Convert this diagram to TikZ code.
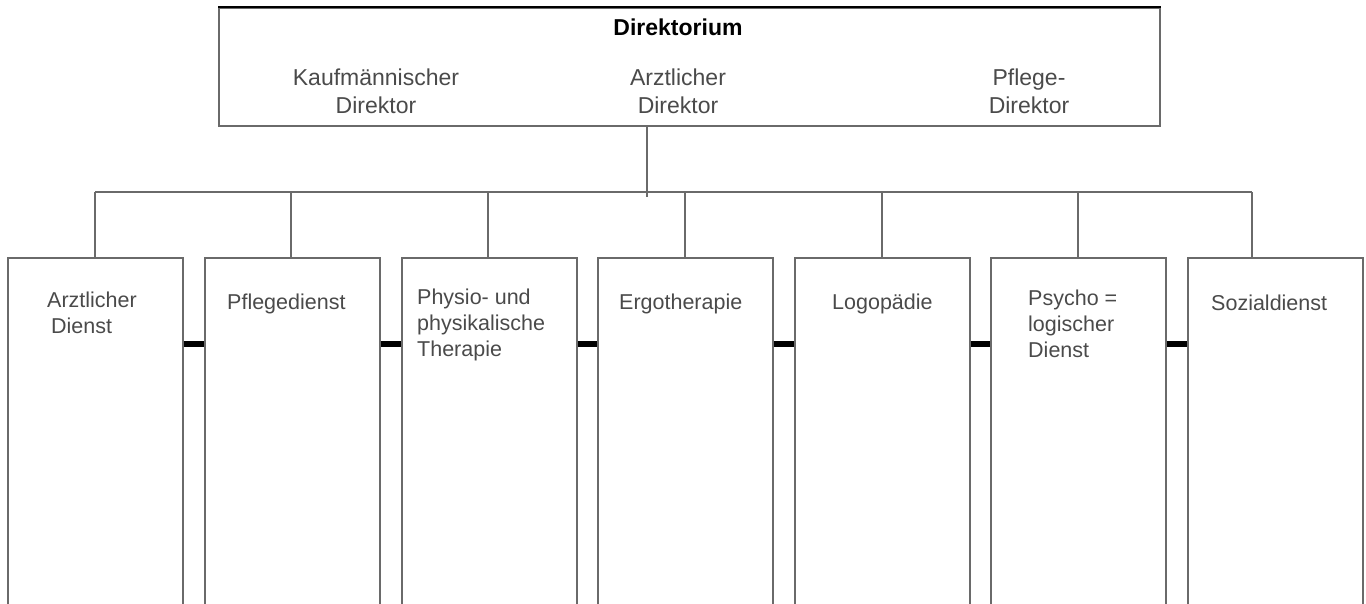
\documentclass[tikz,border=0pt]{standalone}
\usepackage{fontspec}
\setmainfont{Liberation Sans}
\definecolor{linegray}{HTML}{6A6A6A}
\definecolor{textgray}{HTML}{4A4A4A}
\tikzset{
  conn/.style={draw=linegray, line width=1.6pt},
  unitbox/.style={draw=linegray, line width=1.6pt, rectangle, minimum width=175pt, minimum height=380pt, anchor=north west, inner sep=0pt},
  topbox/.style={draw=linegray, line width=1.6pt, rectangle, minimum width=941pt, minimum height=118pt, anchor=north west, inner sep=0pt},
  link/.style={draw=black, line width=6pt},
  lowtxt/.style={anchor=base west, inner sep=0pt, align=left, text=textgray, font={\fontsize{21.5}{26}\selectfont}},
  toptxt/.style={anchor=base, inner sep=0pt, align=center, text=textgray, font={\fontsize{23}{28}\selectfont}},
}
\begin{document}
\begin{tikzpicture}[x=1pt,y=-1pt]
\useasboundingbox (0,0) rectangle (1366,603);
\clip (0,0) rectangle (1366,603);
% top box
\node[topbox] (top) at (218,7) {};
\draw[black, line width=1.6pt] (top.north west) -- (top.north east);
\node[anchor=base, inner sep=0pt, font={\fontsize{23}{28}\selectfont\bfseries}] (dir) at (678,35) {Direktorium};
\node[toptxt] (kd) at (376,113) {Kaufmännischer\\Direktor};
\node[toptxt] (ad) at (678,113) {Arztlicher\\Direktor};
\node[toptxt] (pd) at (1029,113) {Pflege-\\Direktor};
% lower boxes
\node[unitbox] (b1) at (7,257) {};
\node[unitbox] (b2) at (204,257) {};
\node[unitbox] (b3) at (401,257) {};
\node[unitbox] (b4) at (597,257) {};
\node[unitbox] (b5) at (794,257) {};
\node[unitbox] (b6) at (990,257) {};
\node[unitbox] (b7) at (1187,257) {};
% labels
\node[lowtxt] (t1) at (47,333) {Arztlicher\\\hspace{4pt}Dienst};
\node[lowtxt] (t2) at (227,309) {Pflegedienst};
\node[lowtxt] (t3) at (417,356) {Physio- und\\physikalische\\Therapie};
\node[lowtxt] (t4) at (619,309) {Ergotherapie};
\node[lowtxt] (t5) at (832,309) {Logopädie};
\node[lowtxt] (t6) at (1028,357) {Psycho =\\logischer\\Dienst};
\node[lowtxt] (t7) at (1211,310) {Sozialdienst};
% tree connectors
\coordinate (v) at (647,197);
\draw[conn] (v |- top.south) -- (v);
\coordinate (d1) at (95,192);
\coordinate (d2) at (291,192);
\coordinate (d3) at (488,192);
\coordinate (d4) at (685,192);
\coordinate (d5) at (882,192);
\coordinate (d6) at (1078,192);
\coordinate (d7) at (1252,192);
\draw[conn] (d1) -- (d7);
\foreach \i in {1,...,7} {
  \draw[conn] (d\i) -- (d\i |- b\i.north);
}
% thick links between boxes
\coordinate (h) at (0,344);
\draw[link] (b1.east |- h) -- (b2.west |- h);
\draw[link] (b2.east |- h) -- (b3.west |- h);
\draw[link] (b3.east |- h) -- (b4.west |- h);
\draw[link] (b4.east |- h) -- (b5.west |- h);
\draw[link] (b5.east |- h) -- (b6.west |- h);
\draw[link] (b6.east |- h) -- (b7.west |- h);
\end{tikzpicture}
\end{document}
